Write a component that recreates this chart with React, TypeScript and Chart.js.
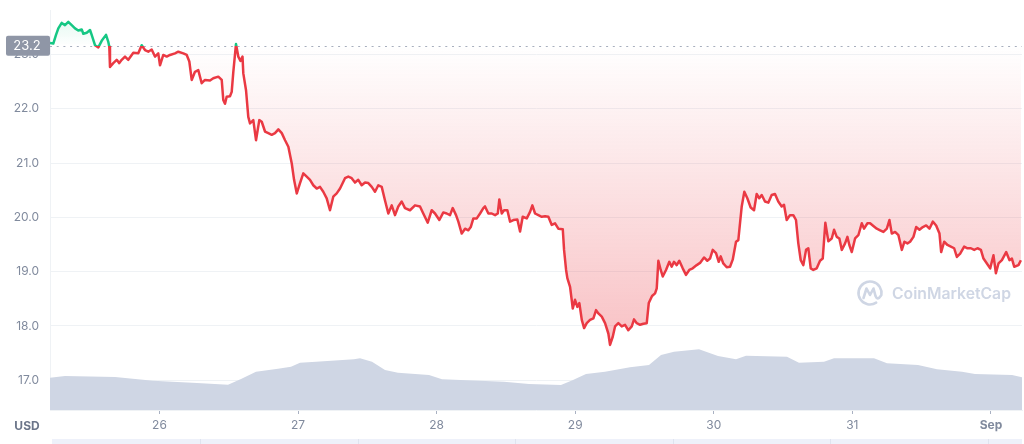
import React, { useEffect, useRef } from 'react';
import { Chart, registerables } from 'chart.js';

Chart.register(...registerables);

// ---- data ----
const BASE_PRICE = 23.16;
const BASE_LABEL = '23.2';
const Y_TICKS = [17, 18, 19, 20, 21, 22, 23];
const X_TICK_HOURS = [24, 48, 72, 96, 120, 144, 168];
const X_TICK_LABELS = ['26', '27', '28', '29', '30', '31', 'Sep'];

// hours since Aug 25 00:00
const HOURS = [5.04,5.61,6.08,6.48,7.07,7.64,8.21,8.80,9.37,9.94,10.53,10.81,11.40,11.97,12.26,12.83,13.41,13.99,14.74,15.14,15.31,15.43,16.00,16.59,17.04,17.46,18.03,18.60,19.47,20.33,20.92,21.49,22.06,22.65,23.22,23.79,24.09,24.66,25.25,25.82,26.69,27.26,28.13,28.72,29.17,29.58,30.15,30.72,31.31,31.88,32.75,33.32,34.19,34.78,35.05,35.35,35.64,36.21,36.51,36.79,37.25,37.65,38.03,38.38,38.52,38.99,39.38,39.68,40.25,40.72,41.29,41.71,42.28,42.85,43.44,44.01,44.59,45.18,45.75,46.32,46.91,47.31,47.78,48.34,48.91,49.50,50.07,50.64,51.23,51.80,52.37,52.96,53.53,54.10,54.69,55.27,56.13,56.70,57.29,57.86,58.43,59.02,59.60,60.17,60.76,61.33,61.90,62.49,63.06,63.63,64.22,64.79,65.36,65.95,66.52,67.39,68.26,69.12,69.69,70.46,71.15,71.72,72.47,73.16,73.75,74.32,74.79,75.36,75.76,76.35,76.92,77.49,77.91,78.36,78.95,79.52,80.09,80.38,80.96,81.55,82.12,82.59,82.86,83.28,83.68,84.25,84.72,85.29,85.98,86.45,86.91,87.61,88.18,88.58,89.05,89.62,90.21,90.78,91.35,91.94,92.51,93.08,93.85,94.07,94.42,94.64,95.11,95.58,95.97,96.37,96.72,97.14,97.54,98.00,98.57,99.15,99.61,100.01,100.60,101.17,101.74,102.03,102.50,102.90,103.47,104.06,104.63,105.20,105.79,106.19,106.66,107.23,107.81,108.39,108.74,109.31,109.83,110.12,110.40,110.81,111.16,111.73,112.30,112.71,113.11,113.58,114.03,114.62,115.19,115.76,116.35,117.05,117.62,118.31,118.88,119.35,119.82,120.39,120.86,121.20,121.65,122.24,122.81,123.28,123.85,124.25,124.54,124.84,125.29,125.81,126.39,126.97,127.43,127.88,128.30,128.87,129.44,130.03,130.60,131.17,131.76,132.16,132.63,133.20,133.77,134.24,134.64,135.06,135.51,135.98,136.37,136.79,137.24,137.83,138.40,138.87,139.32,139.84,140.43,140.83,141.30,141.75,142.17,142.74,143.14,143.48,143.90,144.47,145.04,145.63,146.03,146.61,147.07,147.64,148.23,148.81,149.38,149.97,150.42,150.83,151.40,151.98,152.57,153.02,153.54,154.00,154.58,155.05,155.62,156.21,156.78,157.35,157.94,158.51,159.09,159.38,159.90,160.47,161.06,161.63,162.10,162.67,163.36,163.94,164.53,165.10,165.67,166.26,166.71,167.30,167.87,168.44,168.86,169.31,169.90,170.64,171.22,171.63,172.03,172.77,173.19];

const PRICES = [23.21,23.20,23.36,23.48,23.58,23.54,23.60,23.54,23.48,23.44,23.46,23.38,23.40,23.45,23.36,23.17,23.13,23.25,23.36,23.23,23.14,22.77,22.84,22.90,22.84,22.90,22.96,22.90,23.03,23.02,23.17,23.08,23.05,23.09,22.96,23.02,22.80,22.99,22.96,22.99,23.02,23.05,23.02,22.99,22.87,22.53,22.68,22.71,22.47,22.53,22.52,22.56,22.59,22.53,22.16,22.09,22.22,22.23,22.31,22.68,23.19,22.96,22.88,22.96,22.65,22.34,21.85,21.73,21.79,21.42,21.79,21.76,21.58,21.55,21.52,21.55,21.62,21.55,21.42,21.30,20.99,20.69,20.44,20.63,20.81,20.75,20.69,20.59,20.53,20.56,20.47,20.35,20.13,20.38,20.44,20.53,20.72,20.75,20.72,20.64,20.69,20.59,20.64,20.63,20.56,20.47,20.59,20.56,20.31,20.07,20.22,20.04,20.20,20.29,20.17,20.13,20.22,20.20,20.07,19.90,20.13,20.07,19.95,20.09,20.07,20.04,20.17,20.04,19.92,19.70,19.79,19.76,19.82,19.98,19.98,20.07,20.17,20.20,20.07,20.07,20.04,20.07,20.33,20.07,20.13,20.13,19.92,19.95,19.96,19.74,20.01,19.98,20.10,20.22,20.07,20.04,20.01,20.02,20.01,19.86,19.89,19.79,19.78,19.40,19.03,18.88,18.72,18.32,18.48,18.35,18.42,18.11,17.96,18.05,18.11,18.14,18.29,18.23,18.17,18.05,17.86,17.65,17.80,17.99,18.05,17.99,18.02,17.92,17.99,18.12,18.05,18.02,18.04,18.05,18.42,18.55,18.60,18.69,19.20,19.03,18.91,19.03,19.18,19.09,19.18,19.12,19.20,19.06,18.94,19.03,19.06,19.12,19.16,19.26,19.20,19.24,19.40,19.34,19.18,19.28,19.15,19.08,19.09,19.22,19.55,19.58,19.89,20.20,20.47,20.35,20.18,20.13,20.43,20.35,20.41,20.29,20.27,20.41,20.43,20.29,20.20,20.23,19.95,20.04,20.04,19.95,19.52,19.21,19.12,19.40,19.43,19.06,19.03,19.06,19.20,19.24,19.90,19.56,19.61,19.77,19.64,19.61,19.40,19.52,19.64,19.49,19.36,19.61,19.67,19.89,19.79,19.89,19.89,19.84,19.79,19.76,19.73,19.79,19.95,19.70,19.73,19.67,19.40,19.55,19.52,19.55,19.64,19.82,19.77,19.82,19.85,19.79,19.92,19.85,19.70,19.36,19.55,19.49,19.46,19.43,19.27,19.33,19.46,19.43,19.43,19.40,19.43,19.40,19.24,19.15,19.06,19.30,18.97,19.15,19.21,19.36,19.21,19.24,19.09,19.12,19.21];

const VOL_HOURS = [5.04,7.64,16.30,22.88,30.50,35.87,38.12,40.72,44.53,46.78,48.34,51.11,57.69,58.73,60.81,63.06,65.31,70.68,72.93,79.34,83.67,88.00,93.54,95.62,97.87,101.16,105.49,108.78,110.86,113.11,117.44,120.73,123.85,125.58,132.68,134.76,139.09,140.82,147.75,150.00,155.37,158.66,162.99,165.24,171.65,173.38];
// volume (millions USD, relative scale)
const VOLUME = [32.3,34,33,29.3,27,25.3,31,38.3,41.3,43.3,47.3,48.3,50.7,51.7,48.3,40,37.3,35,30.7,29.3,28.3,26,25,30,36,38.3,42.7,45,55,58.3,60.7,54,50.7,54.3,53.3,47.3,48.3,51.7,51.7,46.7,45,40.7,38.3,36,35,32.7];

const X_MIN = 5.04;
const X_MAX = 173.38;
const Y_MIN = 16.451;
const Y_MAX = 23.818;
const VOL_MAX = 400;

const GREEN = '#16c784';
const RED = '#ea3943';
const AXIS_TEXT = '#808a9d';
const FONT = 'Inter, "Noto Sans", sans-serif';

function baseOffset(chart: any): number | null {
  const { chartArea, scales } = chart;
  if (!chartArea || !scales || !scales.y) return null;
  const yb = scales.y.getPixelForValue(BASE_PRICE);
  const o = (yb - chartArea.top) / (chartArea.bottom - chartArea.top);
  return Math.min(1, Math.max(0, o));
}

function lineColor(c: any) {
  const chart = c.chart;
  const o = baseOffset(chart);
  if (o === null) return RED;
  const { ctx, chartArea } = chart;
  const g = ctx.createLinearGradient(0, chartArea.top, 0, chartArea.bottom);
  g.addColorStop(0, GREEN);
  g.addColorStop(o, GREEN);
  g.addColorStop(o, RED);
  g.addColorStop(1, RED);
  return g;
}

function fillColor(c: any) {
  const chart = c.chart;
  const o = baseOffset(chart);
  if (o === null) return 'rgba(234,57,67,0.15)';
  const { ctx, chartArea } = chart;
  const g = ctx.createLinearGradient(0, chartArea.top, 0, chartArea.bottom);
  g.addColorStop(0, 'rgba(22,199,132,0.16)');
  g.addColorStop(o, 'rgba(22,199,132,0)');
  g.addColorStop(o, 'rgba(234,57,67,0)');
  g.addColorStop(1, 'rgba(234,57,67,0.38)');
  return g;
}

const decorPlugin = {
  id: 'decor',
  beforeDatasetsDraw(chart: any) {
    const { ctx, chartArea, scales } = chart;
    ctx.save();
    // watermark
    const lx = chartArea.right - 152;
    const ly = chartArea.bottom - 117;
    ctx.strokeStyle = '#cfd6e4';
    ctx.lineWidth = 2.6;
    ctx.lineCap = 'round';
    ctx.lineJoin = 'round';
    ctx.beginPath();
    ctx.arc(lx, ly, 11.5, 0.32 * Math.PI, 2.05 * Math.PI);
    ctx.stroke();
    ctx.beginPath();
    ctx.moveTo(lx - 6.5, ly + 5);
    ctx.lineTo(lx - 3.5, ly - 4.5);
    ctx.lineTo(lx, ly + 2);
    ctx.lineTo(lx + 3.5, ly - 4.5);
    ctx.lineTo(lx + 5.5, ly + 3);
    ctx.quadraticCurveTo(lx + 7.5, ly + 8, lx + 11, ly + 2.5);
    ctx.stroke();
    ctx.fillStyle = '#cfd6e4';
    let size = 16;
    ctx.font = `600 ${size}px ${FONT}`;
    const w = ctx.measureText('CoinMarketCap').width;
    size = size * 119 / w;
    ctx.font = `600 ${size.toFixed(2)}px ${FONT}`;
    ctx.textAlign = 'left';
    ctx.textBaseline = 'middle';
    ctx.fillText('CoinMarketCap', lx + 22, ly + 1);

    // dotted baseline
    const yb = scales.y.getPixelForValue(BASE_PRICE);
    ctx.strokeStyle = '#a7aebd';
    ctx.lineWidth = 1;
    ctx.lineCap = 'butt';
    ctx.setLineDash([2, 4.7]);
    ctx.beginPath();
    ctx.moveTo(chartArea.left, Math.round(yb) + 0.5);
    ctx.lineTo(chartArea.right, Math.round(yb) + 0.5);
    ctx.stroke();
    ctx.restore();
  },
  afterDraw(chart: any) {
    const { ctx, chartArea, scales, height } = chart;
    ctx.save();
    // base price label
    const yb = scales.y.getPixelForValue(BASE_PRICE);
    const bx = 6, bw = chartArea.left - 6, bh = 20;
    ctx.fillStyle = '#8f96a6';
    ctx.beginPath();
    if ((ctx as any).roundRect) (ctx as any).roundRect(bx, yb - bh / 2, bw, bh, 2);
    else ctx.rect(bx, yb - bh / 2, bw, bh);
    ctx.fill();
    ctx.fillStyle = '#ffffff';
    ctx.font = `13px ${FONT}`;
    ctx.textAlign = 'center';
    ctx.textBaseline = 'middle';
    ctx.fillText(BASE_LABEL, bx + bw / 2 - 1, yb + 0.5);

    // currency label
    ctx.fillStyle = '#6b7589';
    ctx.font = `bold 12px ${FONT}`;
    ctx.fillText('USD', 27, chartArea.bottom + 16);

    // bottom navigator strip
    ctx.fillStyle = '#eef1fa';
    ctx.fillRect(chartArea.left + 2, height - 5, chartArea.right - chartArea.left - 2, 5);
    ctx.fillStyle = '#dfe4ef';
    for (let i = 0; i < 6; i++) {
      const sx = Math.round(200 + i * 157.6);
      if (sx < chartArea.right) ctx.fillRect(sx, height - 5, 1, 5);
    }
    ctx.restore();
  },
};

export default function App() {
  const ref = useRef<HTMLCanvasElement | null>(null);

  useEffect(() => {
    if (!ref.current) return;
    Chart.defaults.font.family = FONT;
    const n = Math.min(HOURS.length, PRICES.length);
    const priceData = [] as { x: number; y: number }[];
    for (let i = 0; i < n; i++) priceData.push({ x: HOURS[i], y: PRICES[i] });
    const m = Math.min(VOL_HOURS.length, VOLUME.length);
    const volData = [] as { x: number; y: number }[];
    for (let i = 0; i < m; i++) volData.push({ x: VOL_HOURS[i], y: VOLUME[i] });

    const chart = new Chart(ref.current, {
      type: 'line',
      data: {
        datasets: [
          {
            label: 'Price',
            data: priceData,
            yAxisID: 'y',
            borderWidth: 2.5,
            pointRadius: 0,
            tension: 0,
            order: 0,
            borderJoinStyle: 'round',
            borderColor: lineColor as any,
            backgroundColor: fillColor as any,
            fill: { target: { value: BASE_PRICE } } as any,
          },
          {
            label: 'Volume',
            data: volData,
            yAxisID: 'yVol',
            borderWidth: 0,
            pointRadius: 0,
            tension: 0,
            order: 1,
            borderColor: 'rgba(0,0,0,0)',
            backgroundColor: '#cfd6e4',
            fill: 'origin',
          },
        ],
      },
      options: {
        responsive: false,
        animation: false,
        events: [],
        layout: { padding: { top: 10, right: 2, left: 0, bottom: 0 } },
        plugins: {
          legend: { display: false },
          tooltip: { enabled: false },
        },
        scales: {
          x: {
            type: 'linear',
            min: X_MIN,
            max: X_MAX,
            afterBuildTicks: (s: any) => {
              s.ticks = X_TICK_HOURS.map((v) => ({ value: v }));
            },
            afterFit: (s: any) => {
              s.height = 34;
              s.paddingLeft = 0;
              s.paddingRight = 0;
            },
            ticks: {
              autoSkip: false,
              maxRotation: 0,
              padding: 4,
              color: AXIS_TEXT,
              font: (c: any) => {
                const lbl = c.tick ? X_TICK_LABELS[X_TICK_HOURS.indexOf(c.tick.value)] : '';
                return lbl === 'Sep'
                  ? { family: FONT, size: 12, weight: 'bold' }
                  : { family: FONT, size: 12, weight: 'normal' };
              },
              callback: (v: any) => {
                const i = X_TICK_HOURS.indexOf(Number(v));
                return i >= 0 ? X_TICK_LABELS[i] : '';
              },
            },
            grid: {
              drawOnChartArea: false,
              drawTicks: true,
              tickLength: 4,
              color: '#a9b1c2',
            },
            border: { display: true, color: '#eff2f5' },
          },
          y: {
            position: 'left',
            min: Y_MIN,
            max: Y_MAX,
            afterBuildTicks: (s: any) => {
              s.ticks = Y_TICKS.map((v) => ({ value: v }));
            },
            afterFit: (s: any) => {
              s.width = 50;
              s.paddingTop = 0;
              s.paddingBottom = 0;
            },
            ticks: {
              padding: 11,
              color: AXIS_TEXT,
              font: { family: FONT, size: 12 },
              callback: (v: any) => Number(v).toFixed(1),
            },
            grid: { color: '#eff2f5', drawTicks: false },
            border: { display: true, color: '#eff2f5' },
          },
          yVol: {
            display: false,
            min: 0,
            max: VOL_MAX,
          },
        },
      } as any,
      plugins: [decorPlugin as any],
    });

    return () => chart.destroy();
  }, []);

  return (
    <div style={{ position: 'fixed', left: 0, top: 0, width: 1024, height: 444, background: '#ffffff' }}>
      <canvas ref={ref} width={1024} height={444} style={{ display: 'block' }} />
    </div>
  );
}
